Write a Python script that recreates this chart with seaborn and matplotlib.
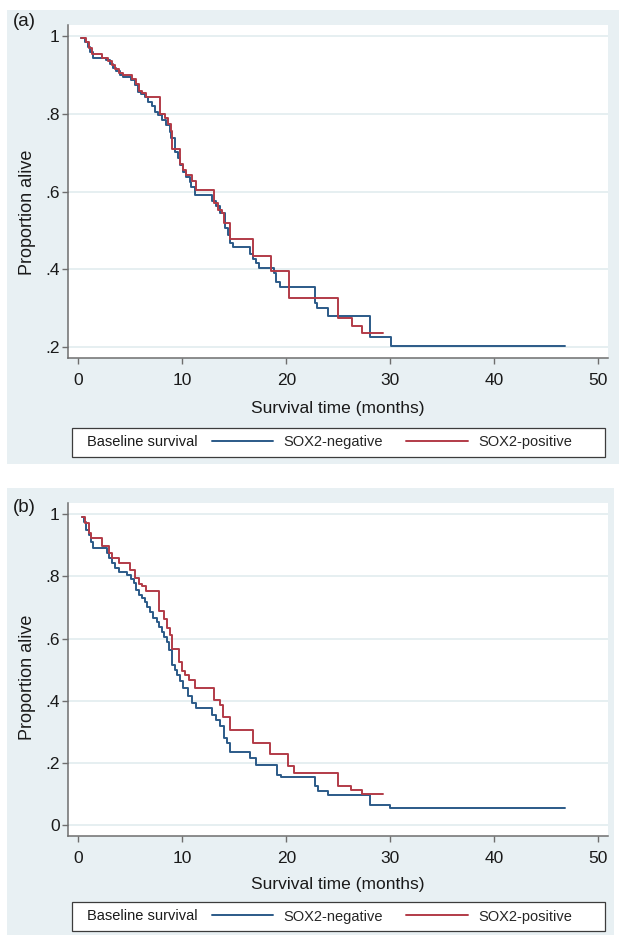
import numpy as np
import pandas as pd
import matplotlib
matplotlib.use("Agg")
import matplotlib.pyplot as plt
from matplotlib.patches import Rectangle
import seaborn as sns

# survival curves (step starts, value after the step)
a_neg_t = [0.3, 0.63, 0.95, 1.17, 1.41, 2.71, 3.03, 3.35, 3.67, 3.99, 4.31, 5.11, 5.43, 5.75,
           6.07, 6.39, 6.71, 7.04, 7.36, 7.68, 8.0, 8.48, 8.8, 8.96, 9.28, 9.6, 9.76, 10.08,
           10.4, 10.72, 10.88, 11.2, 12.85, 13.2, 13.6, 14.09, 14.41, 14.57, 14.89, 16.49,
           16.81, 17.13, 17.39, 18.8, 19.0, 19.38, 22.74, 22.97, 24.02, 28.03, 30.02, 46.8]
a_neg_s = [0.996, 0.986, 0.973, 0.96, 0.943, 0.939, 0.928, 0.918, 0.909, 0.9, 0.896, 0.887,
           0.874, 0.857, 0.851, 0.844, 0.831, 0.819, 0.806, 0.797, 0.784, 0.771, 0.754, 0.737,
           0.703, 0.686, 0.668, 0.651, 0.638, 0.625, 0.612, 0.592, 0.575, 0.563, 0.546, 0.506,
           0.489, 0.467, 0.457, 0.441, 0.428, 0.416, 0.405, 0.390, 0.368, 0.355, 0.313, 0.300,
           0.280, 0.227, 0.203, 0.203]
a_pos_t = [0.3, 0.7, 1.0, 1.3, 2.3, 2.9, 3.2, 3.5, 3.9, 4.3, 5.2, 5.5, 5.8, 6.1, 6.5, 7.85,
           8.3, 8.6, 8.9, 9.05, 9.76, 10.1, 10.4, 10.9, 11.3, 13.03, 13.4, 13.8, 14.0, 14.6,
           16.75, 18.48, 20.27, 24.98, 26.27, 27.23, 29.25]
a_pos_s = [0.996, 0.985, 0.97, 0.954, 0.943, 0.937, 0.926, 0.915, 0.905, 0.9, 0.889, 0.876,
           0.86, 0.853, 0.844, 0.8, 0.79, 0.773, 0.757, 0.709, 0.67, 0.655, 0.643, 0.628,
           0.604, 0.572, 0.553, 0.545, 0.519, 0.478, 0.435, 0.397, 0.326, 0.275, 0.255,
           0.236, 0.236]

b_neg_t = [0.35, 0.58, 0.77, 0.99, 1.22, 1.41, 2.75, 3.0, 3.23, 3.55, 3.87, 4.73, 5.05, 5.31,
           5.56, 5.79, 6.1, 6.42, 6.65, 6.9, 7.22, 7.54, 7.8, 8.02, 8.25, 8.5, 8.76, 8.98, 9.3,
           9.52, 9.78, 10.1, 10.5, 10.96, 11.28, 12.88, 13.2, 13.61, 14.0, 14.25, 14.57, 16.49,
           17.13, 19.12, 19.5, 22.8, 23.02, 23.98, 28.0, 30.0, 46.8]
b_neg_s = [0.991, 0.975, 0.949, 0.933, 0.911, 0.89, 0.876, 0.858, 0.842, 0.826, 0.815, 0.804,
           0.791, 0.777, 0.756, 0.74, 0.729, 0.718, 0.702, 0.686, 0.665, 0.654, 0.638, 0.622,
           0.606, 0.59, 0.563, 0.515, 0.499, 0.483, 0.462, 0.44, 0.414, 0.393, 0.376, 0.355,
           0.339, 0.32, 0.28, 0.264, 0.237, 0.216, 0.194, 0.163, 0.155, 0.125, 0.112, 0.098,
           0.066, 0.055, 0.055]
b_pos_t = [0.35, 0.67, 0.99, 1.22, 2.27, 3.0, 3.23, 3.87, 4.99, 5.47, 5.79, 6.1, 6.52, 7.8,
           8.25, 8.57, 8.82, 8.98, 9.72, 9.94, 10.26, 10.68, 11.22, 13.03, 13.61, 13.93, 14.57,
           16.81, 18.47, 20.14, 20.71, 24.94, 26.22, 27.27, 29.29]
b_pos_s = [0.991, 0.970, 0.938, 0.924, 0.898, 0.874, 0.858, 0.842, 0.820, 0.793, 0.774, 0.767,
           0.751, 0.689, 0.663, 0.633, 0.612, 0.567, 0.526, 0.496, 0.483, 0.467, 0.442, 0.403,
           0.387, 0.347, 0.307, 0.264, 0.230, 0.191, 0.167, 0.126, 0.114, 0.101, 0.101]

groups = ["SOX2-negative", "SOX2-positive"]
x_ticks = [0, 10, 20, 30, 40, 50]
a_yticks = [0.2, 0.4, 0.6, 0.8, 1.0]
a_ylabels = [".2", ".4", ".6", ".8", "1"]
b_yticks = [0, 0.2, 0.4, 0.6, 0.8, 1.0]
b_ylabels = ["0", ".2", ".4", ".6", ".8", "1"]

sns.set_style("ticks")
plt.rcParams["font.family"] = ["Liberation Sans", "DejaVu Sans"]

W, H = 619, 939
BLUE = "#2b5a88"
RED = "#b23b47"
BG = "#e8f0f3"
GRID = "#e2ecef"
AXC = "#6e6e6e"

def fig_rect(left, top, right, bottom):
    # pixel box -> figure fraction
    return [left / W, 1 - bottom / H, (right - left) / W, (bottom - top) / H]

fig = plt.figure(figsize=(W / 100, H / 100), dpi=100)

panels = [
    dict(tag="(a)", neg=(a_neg_t, a_neg_s), pos=(a_pos_t, a_pos_s), bg=(7, 10, 619, 464),
         ax=(68, 25, 608, 358), ylim=(0.1725, 1.0285), yt=a_yticks, yl=a_ylabels,
         xlab=408, ylab=212, leg=(72, 428, 605, 457), tag_y=22),
    dict(tag="(b)", neg=(b_neg_t, b_neg_s), pos=(b_pos_t, b_pos_s), bg=(7, 488, 614, 935),
         ax=(68, 503, 608, 836), ylim=(-0.034, 1.035), yt=b_yticks, yl=b_ylabels,
         xlab=885, ylab=677, leg=(72, 902, 605, 931), tag_y=507),
]

for p in panels:
    l, t, r, b = p["bg"]
    fig.add_artist(Rectangle((l / W, 1 - b / H), (r - l) / W, (b - t) / H,
                             transform=fig.transFigure, facecolor=BG, edgecolor="none", zorder=-2))
    l, t, r, b = p["leg"]
    fig.add_artist(Rectangle((l / W, 1 - b / H), (r - l) / W, (b - t) / H,
                             transform=fig.transFigure, facecolor="white", edgecolor="#3c3c3c",
                             lw=0.9, zorder=-1))

    ax = fig.add_axes(fig_rect(*p["ax"]))
    ax.set_facecolor("white")
    df = pd.concat([
        pd.DataFrame({"time": p["neg"][0], "surv": p["neg"][1], "group": groups[0]}),
        pd.DataFrame({"time": p["pos"][0], "surv": p["pos"][1], "group": groups[1]}),
    ])
    sns.lineplot(data=df, x="time", y="surv", hue="group", hue_order=groups,
                 palette=[BLUE, RED], drawstyle="steps-post", estimator=None,
                 lw=1.4, ax=ax)

    ax.set_xlim(-0.99, 50.93)
    ax.set_ylim(*p["ylim"])
    ax.set_xticks(x_ticks)
    ax.set_yticks(p["yt"])
    ax.set_yticklabels(p["yl"])
    ax.grid(axis="y", color=GRID, lw=1.2)
    ax.grid(axis="x", visible=False)
    for s in ["top", "right"]:
        ax.spines[s].set_visible(False)
    for s in ["left", "bottom"]:
        ax.spines[s].set_color(AXC)
        ax.spines[s].set_linewidth(1.1)
    ax.tick_params(axis="both", colors=AXC, labelcolor="#1a1a1a", labelsize=12.5,
                   length=4, width=1)
    ax.tick_params(axis="x", pad=7)
    ax.tick_params(axis="y", pad=2)

    top, bot = p["ax"][1], p["ax"][3]
    ax.set_xlabel("Survival time (months)", fontsize=12.5, color="#1a1a1a")
    ax.set_ylabel("Proportion alive", fontsize=13, color="#1a1a1a")
    ax.xaxis.set_label_coords(0.5, -(p["xlab"] - bot) / (bot - top))
    ax.xaxis.label.set_va("center")
    ax.yaxis.set_label_coords(-(68 - 27) / 540, (bot - p["ylab"]) / (bot - top))
    ax.yaxis.label.set_va("center")

    cy = 1 - (p["leg"][1] + p["leg"][3]) / 2 / H
    sns.move_legend(ax, loc="center", bbox_to_anchor=(392 / W, cy),
                    bbox_transform=fig.transFigure, ncol=2, frameon=False, title=None,
                    fontsize=10.5, handlelength=4.2, handletextpad=0.7, columnspacing=1.6,
                    borderpad=0)
    fig.text(87 / W, cy, "Baseline survival", ha="left", va="center", fontsize=10.5,
             color="#1a1a1a")
    fig.text(13 / W, 1 - p["tag_y"] / H, p["tag"], ha="left", va="center", fontsize=13.5,
             color="#1a1a1a")

fig.savefig("out.png", dpi=100)
